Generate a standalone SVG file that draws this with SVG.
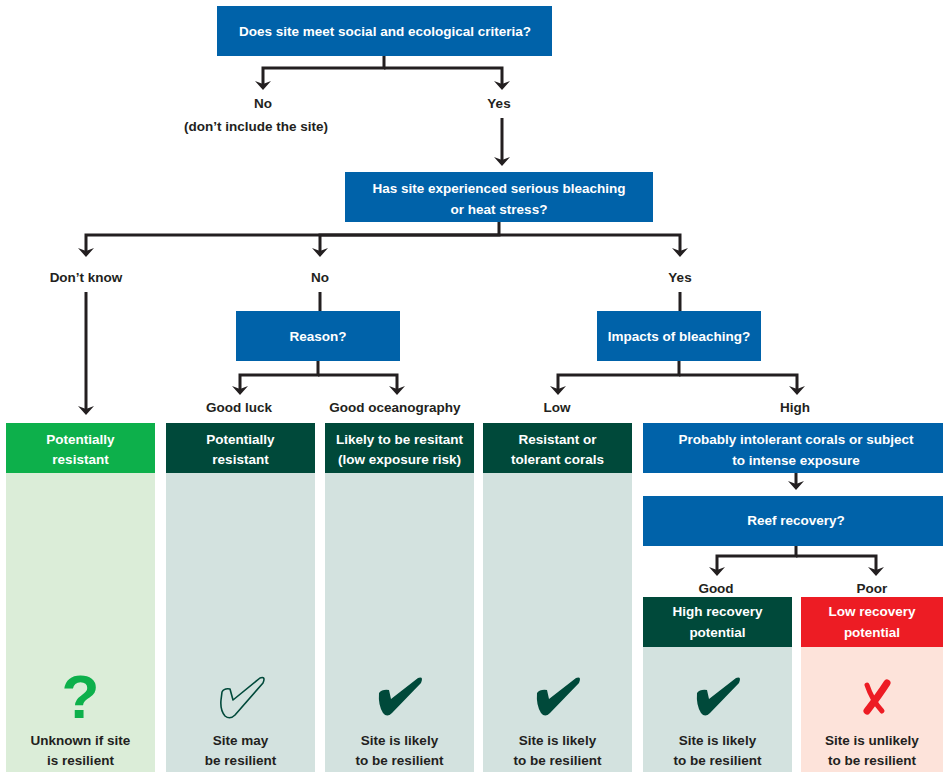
<svg xmlns="http://www.w3.org/2000/svg" width="943" height="772" viewBox="0 0 943 772">
<style>
  text { font-family: "Liberation Sans", Arial, sans-serif; font-weight: bold; font-size: 13.5px; text-anchor: middle; }
  .w { fill: #ffffff; }
  .d { fill: #231F20; }
  .blue { fill: #0062A9; }
  .dg { fill: #00493A; }
  .bg { fill: #0DB04B; }
  .red { fill: #ED1C24; }
  .bodyg { fill: #D3E2DF; }
  .bodylg { fill: #DBEDD8; }
  .bodyp { fill: #FDE3DA; }
  .conn path { fill: none; stroke: #231F20; stroke-width: 3; }
  .arr { marker-end: url(#ah); }
</style>
<defs>
  <marker id="ah" viewBox="-10 -9 11 18" refX="-2" refY="0" markerWidth="11" markerHeight="18" markerUnits="userSpaceOnUse" orient="auto">
    <path d="M0,0 L-9,-8 L-6,0 L-9,8 Z" fill="#231F20"/>
  </marker>
  <path id="check" d="M9,28 Q12,24 19,25 L21,34 L48,13 Q54,11 51,18 L22,48 Q17,53 13,48 Q8,40 9,28 Z" fill="#00493A"/>
</defs>
<rect width="943" height="772" fill="#ffffff"/>

<g id="n-criteria">
  <rect class="blue" x="217" y="6" width="335" height="50"/>
  <text class="w" x="385" y="36">Does site meet social and ecological criteria?</text>
</g>
<g id="l-no1">
  <text class="d" x="263" y="108">No</text>
  <text class="d" x="256" y="131">(don’t include the site)</text>
</g>
<g id="l-yes1"><text class="d" x="499" y="108">Yes</text></g>

<g id="n-bleaching">
  <rect class="blue" x="345" y="172" width="308" height="50"/>
  <text class="w" x="499" y="193">Has site experienced serious bleaching</text>
  <text class="w" x="499" y="214">or heat stress?</text>
</g>
<g id="l-dontknow"><text class="d" x="86" y="282">Don’t know</text></g>
<g id="l-no2"><text class="d" x="320" y="282">No</text></g>
<g id="l-yes2"><text class="d" x="680" y="282">Yes</text></g>

<g id="n-reason">
  <rect class="blue" x="236" y="311" width="164" height="50"/>
  <text class="w" x="318" y="341">Reason?</text>
</g>
<g id="n-impacts">
  <rect class="blue" x="597" y="311" width="164" height="50"/>
  <text class="w" x="679" y="341">Impacts of bleaching?</text>
</g>
<g id="l-goodluck"><text class="d" x="239" y="412">Good luck</text></g>
<g id="l-goodocean"><text class="d" x="395" y="412">Good oceanography</text></g>
<g id="l-low"><text class="d" x="557" y="412">Low</text></g>
<g id="l-high"><text class="d" x="795" y="412">High</text></g>

<g id="col-unknown">
  <rect class="bodylg" x="6" y="473" width="149" height="299"/>
  <rect class="bg" x="6" y="423" width="149" height="50"/>
  <text class="w" x="80.5" y="444">Potentially</text>
  <text class="w" x="80.5" y="464">resistant</text>
  <text x="80.5" y="718" style="font-size:62px;fill:#0DB04B">?</text>
  <text class="d" x="80.5" y="745">Unknown if site</text>
  <text class="d" x="80.5" y="765">is resilient</text>
</g>

<g id="col-luck">
  <rect class="bodyg" x="166" y="473" width="149" height="299"/>
  <rect class="dg" x="166" y="423" width="149" height="50"/>
  <text class="w" x="240.5" y="444">Potentially</text>
  <text class="w" x="240.5" y="464">resistant</text>
  <path transform="translate(211,665)" d="M11,27 Q13,23 19,24 L22,35 L49,13 Q55,11 52,18 L24,50 Q19,55 14,51 Q9,45 10,35 Z" fill="none" stroke="#00493A" stroke-width="1.6" stroke-linejoin="round"/>
  <text class="d" x="240.5" y="745">Site may</text>
  <text class="d" x="240.5" y="765">be resilient</text>
</g>

<g id="col-ocean">
  <rect class="bodyg" x="325" y="473" width="149" height="299"/>
  <rect class="dg" x="325" y="423" width="149" height="50"/>
  <text class="w" x="399.5" y="444">Likely to be resitant</text>
  <text class="w" x="399.5" y="464">(low exposure risk)</text>
  <use href="#check" transform="translate(370,665)"/>
  <text class="d" x="399.5" y="745">Site is likely</text>
  <text class="d" x="399.5" y="765">to be resilient</text>
</g>

<g id="col-tolerant">
  <rect class="bodyg" x="483" y="473" width="149" height="299"/>
  <rect class="dg" x="483" y="423" width="149" height="50"/>
  <text class="w" x="557.5" y="444">Resistant or</text>
  <text class="w" x="557.5" y="464">tolerant corals</text>
  <use href="#check" transform="translate(528,665)"/>
  <text class="d" x="557.5" y="745">Site is likely</text>
  <text class="d" x="557.5" y="765">to be resilient</text>
</g>

<g id="n-intolerant">
  <rect class="blue" x="643" y="423" width="300" height="50"/>
  <text class="w" x="796" y="444">Probably intolerant  corals or subject</text>
  <text class="w" x="796" y="465">to  intense exposure</text>
</g>
<g id="n-recovery">
  <rect class="blue" x="643" y="496" width="300" height="50"/>
  <text class="w" x="796" y="525">Reef recovery?</text>
</g>
<g id="l-good"><text class="d" x="716" y="593">Good</text></g>
<g id="l-poor"><text class="d" x="872" y="593">Poor</text></g>

<g id="col-highrec">
  <rect class="bodyg" x="643" y="647" width="149" height="125"/>
  <rect class="dg" x="643" y="597" width="149" height="50"/>
  <text class="w" x="717.5" y="616">High recovery</text>
  <text class="w" x="717.5" y="637">potential</text>
  <use href="#check" transform="translate(688,665)"/>
  <text class="d" x="717.5" y="745">Site is likely</text>
  <text class="d" x="717.5" y="765">to be resilient</text>
</g>

<g id="col-lowrec">
  <rect class="bodyp" x="801" y="647" width="142" height="125"/>
  <rect class="red" x="801" y="597" width="142" height="50"/>
  <text class="w" x="872" y="616">Low recovery</text>
  <text class="w" x="872" y="637">potential</text>
  <path d="M887,683 Q880,694 867,711" fill="none" stroke="#ED1C24" stroke-width="7" stroke-linecap="round"/>
  <path d="M867,685 Q872,700 882,711" fill="none" stroke="#ED1C24" stroke-width="5" stroke-linecap="round"/>
  <text class="d" x="872" y="745">Site is unlikely</text>
  <text class="d" x="872" y="765">to be resilient</text>
</g>

<g id="connectors" class="conn">
  <path class="arr" d="M384,56 V68 H263 V88"/>
  <path class="arr" d="M384,68 H502 V88"/>
  <path class="arr" d="M502,118 V164"/>
  <path class="arr" d="M499,222 V235 H86 V255"/>
  <path class="arr" d="M499,235 H320 V255"/>
  <path class="arr" d="M499,235 H680 V255"/>
  <path class="arr" d="M86,292 V413"/>
  <path d="M320,292 V311"/>
  <path d="M680,292 V311"/>
  <path class="arr" d="M318,361 V375 H240 V393"/>
  <path class="arr" d="M318,375 H397 V393"/>
  <path class="arr" d="M679,361 V375 H558 V393"/>
  <path class="arr" d="M679,375 H797 V393"/>
  <path class="arr" d="M796,473 V488"/>
  <path class="arr" d="M796,546 V556 H717 V574"/>
  <path class="arr" d="M796,556 H876 V574"/>
</g>
</svg>
